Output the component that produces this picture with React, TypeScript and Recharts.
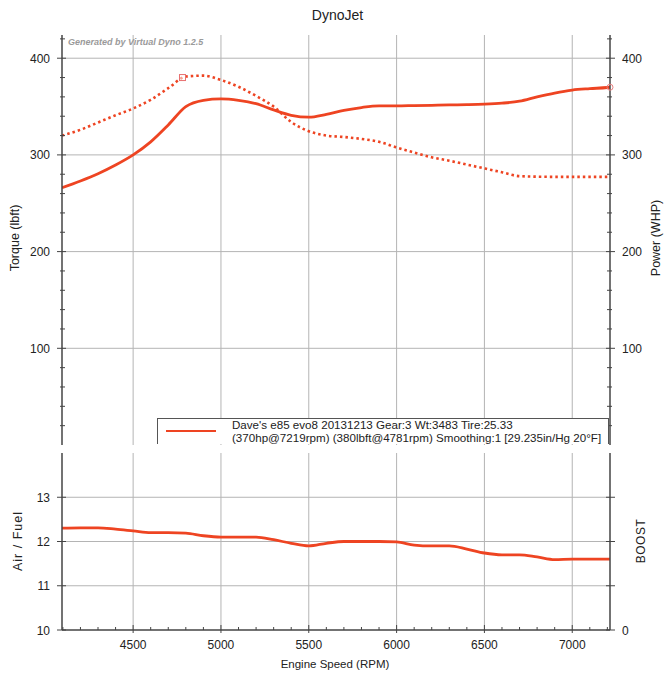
import { LineChart, Line, XAxis, YAxis, ReferenceLine, ReferenceDot } from "recharts"

// engine speed samples (rpm)
const rpm = [4095, 4200, 4300, 4400, 4500, 4600, 4700, 4800, 4900, 5000, 5100, 5200, 5300, 5400, 5500, 5600, 5700, 5800, 5900, 6000, 6100, 6200, 6300, 6400, 6500, 6600, 6700, 6800, 6900, 7000, 7100, 7200, 7215]
// wheel horsepower (solid)
const power = [266, 273, 280.5, 289.5, 300, 313.5, 331, 350, 356.5, 358, 356.5, 353, 346.5, 341, 339, 342, 346, 349, 350.7, 350.7, 351, 351.3, 351.7, 352, 352.5, 353.5, 355.5, 360, 364, 367, 368.5, 369.7, 370]
// torque lbft (dotted)
const torque = [320, 326, 333.5, 341, 348, 357, 369, 381, 382, 377.5, 370.5, 361, 350, 334, 324.5, 320, 318.5, 316.5, 313.5, 307.7, 302.5, 297.5, 294, 290, 286, 282, 278, 277.5, 277.3, 277.3, 277.3, 277.3, 277.3]
// air / fuel ratio
const airFuel = [12.3, 12.31, 12.31, 12.28, 12.24, 12.2, 12.2, 12.19, 12.13, 12.1, 12.1, 12.1, 12.04, 11.96, 11.9, 11.96, 12.0, 12.0, 12.0, 11.99, 11.92, 11.9, 11.9, 11.83, 11.74, 11.7, 11.7, 11.65, 11.59, 11.6, 11.6, 11.6, 11.6]

const rpmTicks = [4100, 4200, 4300, 4400, 4500, 4600, 4700, 4800, 4900, 5000, 5100, 5200, 5300, 5400, 5500, 5600, 5700, 5800, 5900, 6000, 6100, 6200, 6300, 6400, 6500, 6600, 6700, 6800, 6900, 7000, 7100, 7200]
const rpmGrid = [4500, 5000, 5500, 6000, 6500, 7000]
const powerTicks = [20, 40, 60, 80, 100, 120, 140, 160, 180, 200, 220, 240, 260, 280, 300, 320, 340, 360, 380, 400, 420]
const powerGrid = [100, 200, 300, 400]
const afrTicks = [10, 11, 12, 13]
const afrGrid = [11, 12, 13]
const boostTicks = [0, 1, 2, 3]

const peakTorque = { rpm: 4781, value: 380 }
const peakPower = { rpm: 7215, value: 370 }

const RED = "#ee4422"
const AXIS = "#444"
const GRID = "#b4b4b4"
const FONT = "'Liberation Sans', Arial, sans-serif"

const topData = rpm.map((r, i) => ({ rpm: r, power: power[i], torque: torque[i] }))
const afrData = rpm.map((r, i) => ({ rpm: r, afr: airFuel[i] }))

function RpmTick(props: any) {
  const { x = 0, y = 0, payload, edge, showLabel } = props
  const v = payload?.value ?? 0
  const major = v % 500 === 0
  const dir = edge === "top" ? 1 : -1
  return (
    <g>
      <line x1={x} x2={x} y1={y} y2={y + dir * (major ? 5 : 3)} stroke={AXIS} />
      {major && <line x1={x} x2={x} y1={y} y2={y - dir * 3} stroke={AXIS} />}
      {showLabel && major && (
        <text x={x} y={y + 19} textAnchor="middle" fontSize={12} fill="#222">
          {v}
        </text>
      )}
    </g>
  )
}

function ValueTick(props: any) {
  const { x = 0, y = 0, payload, side, majorStep, minor, labelFilter } = props
  const v = payload?.value ?? 0
  const major = v % majorStep === 0
  const s = side === "left" ? 1 : -1
  const showText = labelFilter ? labelFilter(v) : major && v > 0
  if (!major && !minor) return <g />
  return (
    <g>
      <line x1={x - s * (major ? 5 : 2)} x2={x + s * (major ? 4 : 3)} y1={y} y2={y} stroke={AXIS} />
      {showText && (
        <text x={x - s * 12} y={y + 4.5} textAnchor={side === "left" ? "end" : "start"} fontSize={12} fill="#222">
          {v}
        </text>
      )}
    </g>
  )
}

function AxisTitle({ tx, ty, text, spacing = 0, rotate = true, size = 12.5 }: any) {
  return (
    <text
      x={tx}
      y={ty}
      transform={rotate ? `rotate(-90 ${tx} ${ty})` : undefined}
      textAnchor="middle"
      dominantBaseline="central"
      fontSize={size}
      letterSpacing={spacing}
      fill="#222"
    >
      {text}
    </text>
  )
}

export default function App() {
  return (
    <div style={{ position: "absolute", left: 0, top: 0, width: 671, height: 679, background: "#fff", fontFamily: FONT }}>
      <div style={{ position: "absolute", left: 0, top: 7, width: 675, textAlign: "center", fontSize: 14, color: "#222" }}>
        DynoJet
      </div>

      <div style={{ position: "absolute", left: 0, top: 0 }}>
        <LineChart width={671} height={450} data={topData} margin={{ top: 35, right: 0, bottom: 5, left: 0 }}>
          <XAxis xAxisId="top" orientation="top" dataKey="rpm" type="number" domain={[4095, 7215]} allowDataOverflow ticks={rpmTicks} interval={0} height={0} tickSize={0} tickMargin={0} tickLine={false} axisLine={{ stroke: AXIS }} tick={(p: any) => <RpmTick {...p} edge="top" />} />
          <XAxis xAxisId="bottom" dataKey="rpm" type="number" domain={[4095, 7215]} allowDataOverflow ticks={rpmTicks} interval={0} height={0} tickSize={0} tickMargin={0} tickLine={false} axisLine={{ stroke: AXIS }} tick={(p: any) => <RpmTick {...p} edge="bottom" />} />
          <YAxis yAxisId="l" type="number" domain={[0, 424]} allowDataOverflow ticks={powerTicks} interval={0} width={62} tickSize={0} tickMargin={0} tickLine={false} axisLine={{ stroke: AXIS, strokeWidth: 1.5 }} tick={(p: any) => <ValueTick {...p} side="left" majorStep={100} minor />} label={<AxisTitle tx={15} ty={238} text="Torque (lbft)" />} />
          <YAxis yAxisId="r" orientation="right" type="number" domain={[0, 424]} allowDataOverflow ticks={powerTicks} interval={0} width={61} tickSize={0} tickMargin={0} tickLine={false} axisLine={{ stroke: AXIS, strokeWidth: 1.5 }} tick={(p: any) => <ValueTick {...p} side="right" majorStep={100} minor />} label={<AxisTitle tx={656} ty={238} text="Power (WHP)" />} />
          {rpmGrid.map((v) => (
            <ReferenceLine key={"vx" + v} x={v} xAxisId="bottom" yAxisId="l" stroke={GRID} />
          ))}
          {powerGrid.map((v) => (
            <ReferenceLine key={"hy" + v} y={v} xAxisId="bottom" yAxisId="l" stroke={GRID} />
          ))}
          <Line xAxisId="bottom" yAxisId="l" type="monotone" dataKey="torque" stroke={RED} strokeWidth={2.6} strokeDasharray="2.5 3" dot={false} isAnimationActive={false} />
          <Line xAxisId="bottom" yAxisId="r" type="monotone" dataKey="power" stroke={RED} strokeWidth={2.8} dot={false} isAnimationActive={false} />
          <ReferenceDot xAxisId="bottom" yAxisId="l" x={peakTorque.rpm} y={peakTorque.value} shape={(p: any) => <rect x={p.cx - 3} y={p.cy - 3} width={6} height={6} fill="#fff" fillOpacity={0.5} stroke="#e87070" strokeWidth={1} />} />
          <ReferenceDot xAxisId="bottom" yAxisId="r" x={peakPower.rpm} y={peakPower.value} r={3} fill="none" stroke="#e88080" strokeWidth={1} />
        </LineChart>
      </div>

      <div style={{ position: "absolute", left: 68, top: 37, fontSize: 9, fontStyle: "italic", fontWeight: "bold", color: "#9a9a9a" }}>
        Generated by Virtual Dyno 1.2.5
      </div>

      <div style={{ position: "absolute", left: 157, top: 418, width: 452, height: 26, boxSizing: "border-box", border: "1px solid #555", borderBottom: "none", background: "#fff" }}>
        <div style={{ position: "absolute", left: 8, top: 11, width: 50, height: 2, background: RED }} />
        <div style={{ position: "absolute", left: 74, top: 0, fontSize: 11.6, lineHeight: "12.5px", color: "#222", whiteSpace: "nowrap" }}>
          <div>Dave's e85 evo8 20131213 Gear:3 Wt:3483 Tire:25.33</div>
          <div>(370hp@7219rpm) (380lbft@4781rpm) Smoothing:1 [29.235in/Hg 20°F]</div>
        </div>
      </div>

      <div style={{ position: "absolute", left: 0, top: 445 }}>
        <LineChart width={671} height={233} data={afrData} margin={{ top: 8, right: 0, bottom: 0, left: 0 }}>
          <XAxis xAxisId="top" orientation="top" dataKey="rpm" type="number" domain={[4095, 7215]} allowDataOverflow ticks={rpmTicks} interval={0} height={0} tickSize={0} tickMargin={0} tickLine={false} axisLine={{ stroke: AXIS }} tick={(p: any) => <RpmTick {...p} edge="top" />} />
          <XAxis xAxisId="bottom" dataKey="rpm" type="number" domain={[4095, 7215]} allowDataOverflow ticks={rpmTicks} interval={0} height={48} tickSize={0} tickMargin={0} tickLine={false} axisLine={{ stroke: AXIS, strokeWidth: 1.5 }} tick={(p: any) => <RpmTick {...p} edge="bottom" showLabel />} label={<AxisTitle tx={335} ty={219} text="Engine Speed (RPM)" rotate={false} size={11.5} />} />
          <YAxis yAxisId="afr" type="number" domain={[10, 14]} allowDataOverflow ticks={afrTicks} interval={0} width={62} tickSize={0} tickMargin={0} tickLine={false} axisLine={{ stroke: AXIS, strokeWidth: 1.5 }} tick={(p: any) => <ValueTick {...p} side="left" majorStep={1} labelFilter={() => true} />} label={<AxisTitle tx={18} ty={96} text="Air / Fuel" spacing={1} />} />
          <YAxis yAxisId="boost" orientation="right" type="number" domain={[0, 4]} allowDataOverflow ticks={boostTicks} interval={0} width={61} tickSize={0} tickMargin={0} tickLine={false} axisLine={{ stroke: AXIS, strokeWidth: 1.5 }} tick={(p: any) => <ValueTick {...p} side="right" majorStep={1} labelFilter={(v: number) => v === 0} />} label={<AxisTitle tx={641} ty={96} text="BOOST" spacing={0.5} size={12} />} />
          {rpmGrid.map((v) => (
            <ReferenceLine key={"bvx" + v} x={v} xAxisId="bottom" yAxisId="afr" stroke={GRID} />
          ))}
          {afrGrid.map((v) => (
            <ReferenceLine key={"bhy" + v} y={v} xAxisId="bottom" yAxisId="afr" stroke={GRID} />
          ))}
          <Line xAxisId="bottom" yAxisId="afr" type="monotone" dataKey="afr" stroke={RED} strokeWidth={2.8} dot={false} isAnimationActive={false} />
        </LineChart>
      </div>
    </div>
  )
}
